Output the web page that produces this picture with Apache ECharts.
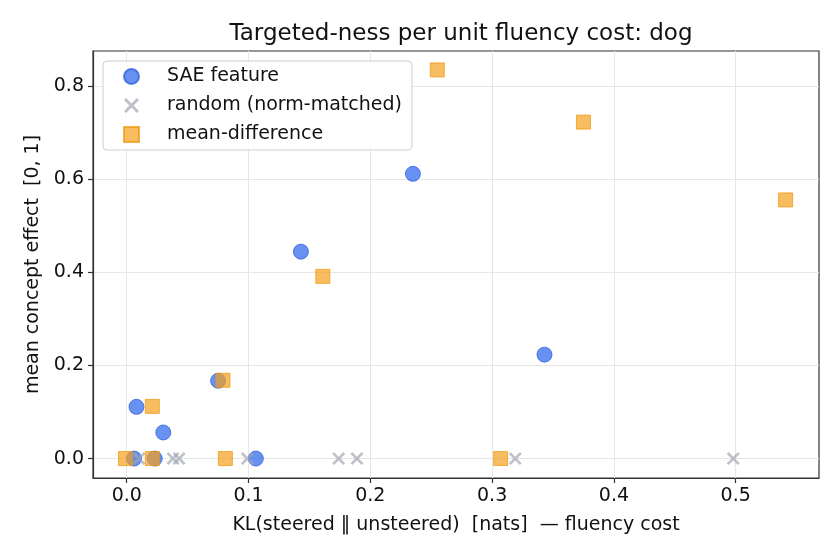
<!DOCTYPE html>
<html>
<head>
<meta charset="utf-8">
<script src="https://cdn.jsdelivr.net/npm/echarts@6/dist/echarts.min.js"></script>
<style>
    body { margin: 0; background: #fff; }
    #main { width: 840px; height: 560px; }
</style>
</head>
<body>
<div id="main"></div>
<script type="text/javascript">
    // SAE feature steering
    var saeX = [0.006, 0.023, 0.106, 0.030, 0.008, 0.075, 0.143, 0.235, 0.343];
    var saeY = [0, 0, 0, 0.056, 0.111, 0.167, 0.444, 0.611, 0.223];
    // random direction, norm-matched
    var randX = [0.010, 0.038, 0.043, 0.099, 0.174, 0.189, 0.319, 0.498];
    var randY = [0, 0, 0, 0, 0, 0, 0, 0];
    // mean-difference vector
    var mdX = [-0.001, 0.021, 0.081, 0.307, 0.021, 0.079, 0.161, 0.255, 0.375, 0.541];
    var mdY = [0, 0, 0, 0, 0.112, 0.168, 0.391, 0.834, 0.722, 0.555];

    var xTicks = [0, 0.1, 0.2, 0.3, 0.4, 0.5];
    var yTicks = [0, 0.2, 0.4, 0.6, 0.8];

    function pairs(xs, ys) {
        return xs.map(function (x, i) { return [x, ys[i]]; });
    }

    var font = 'DejaVu Sans';
    var crossPath = 'path://M0,1.4 L1.4,0 L5,3.6 L8.6,0 L10,1.4 L6.4,5 L10,8.6 L8.6,10 L5,6.4 L1.4,10 L0,8.6 L3.6,5 Z';

    var myChart = echarts.init(document.getElementById('main'));
    var option = {
        animation: false,
        backgroundColor: '#fff',
        textStyle: {fontFamily: font},
        title: {
            text: 'Targeted-ness per unit fluency cost: dog',
            left: 456,
            textAlign: 'center',
            top: 18,
            textStyle: {fontFamily: font, fontSize: 23, fontWeight: 'normal', color: '#111'}
        },
        legend: {
            orient: 'vertical',
            left: 103,
            top: 61,
            padding: [6, 10, 6, 20],
            itemGap: 10,
            itemWidth: 15,
            itemHeight: 15,
            borderColor: '#cfcfcf',
            borderWidth: 1,
            borderRadius: 4,
            backgroundColor: 'rgba(255,255,255,0.85)',
            textStyle: {fontFamily: font, fontSize: 19, color: '#111', padding: [0, 0, 0, 23]},
            data: ['SAE feature', 'random (norm-matched)', 'mean-difference']
        },
        grid: {
            left: 93,
            right: 21,
            top: 51,
            bottom: 82,
            show: true,
            borderColor: '#333',
            borderWidth: 1.2
        },
        xAxis: {
            type: 'value',
            min: -0.0277,
            max: 0.5684,
            name: 'KL(steered \u2016 unsteered)  [nats]  \u2014 fluency cost',
            nameLocation: 'middle',
            nameGap: 38,
            nameTextStyle: {fontFamily: font, fontSize: 19, color: '#111'},
            axisLine: {show: true, onZero: false, lineStyle: {color: '#333', width: 1.2}},
            axisTick: {show: true, length: 5, customValues: xTicks, lineStyle: {color: '#333', width: 1.2}},
            axisLabel: {
                customValues: xTicks,
                margin: 9,
                fontFamily: font, fontSize: 19, color: '#111',
                formatter: function (v) { return v.toFixed(1); }
            },
            splitLine: {show: true, lineStyle: {color: '#e6e6e6', width: 1}}
        },
        yAxis: {
            type: 'value',
            min: -0.0417,
            max: 0.8746,
            name: 'mean concept effect  [0, 1]',
            nameLocation: 'middle',
            nameGap: 50,
            nameTextStyle: {fontFamily: font, fontSize: 19, color: '#111'},
            axisLine: {show: true, onZero: false, lineStyle: {color: '#333', width: 1.2}},
            axisTick: {show: true, length: 5, customValues: yTicks, lineStyle: {color: '#333', width: 1.2}},
            axisLabel: {
                customValues: yTicks,
                margin: 9,
                fontFamily: font, fontSize: 19, color: '#111',
                formatter: function (v) { return v.toFixed(1); }
            },
            splitLine: {show: true, lineStyle: {color: '#e6e6e6', width: 1}}
        },
        series: [
            {
                name: 'SAE feature',
                type: 'scatter',
                symbol: 'circle',
                symbolSize: 15,
                itemStyle: {color: 'rgba(40,100,235,0.88)', borderColor: 'rgba(40,90,220,0.9)', borderWidth: 1},
                data: pairs(saeX, saeY)
            },
            {
                name: 'random (norm-matched)',
                type: 'scatter',
                symbol: crossPath,
                symbolSize: 13,
                itemStyle: {color: 'rgba(160,164,178,0.85)'},
                data: pairs(randX, randY)
            },
            {
                name: 'mean-difference',
                type: 'scatter',
                symbol: 'rect',
                symbolSize: 14,
                itemStyle: {color: 'rgba(245,160,30,0.88)', borderColor: 'rgba(240,150,10,0.9)', borderWidth: 1},
                data: pairs(mdX, mdY)
            }
        ]
    };
    myChart.setOption(option);
</script>
</body>
</html>
